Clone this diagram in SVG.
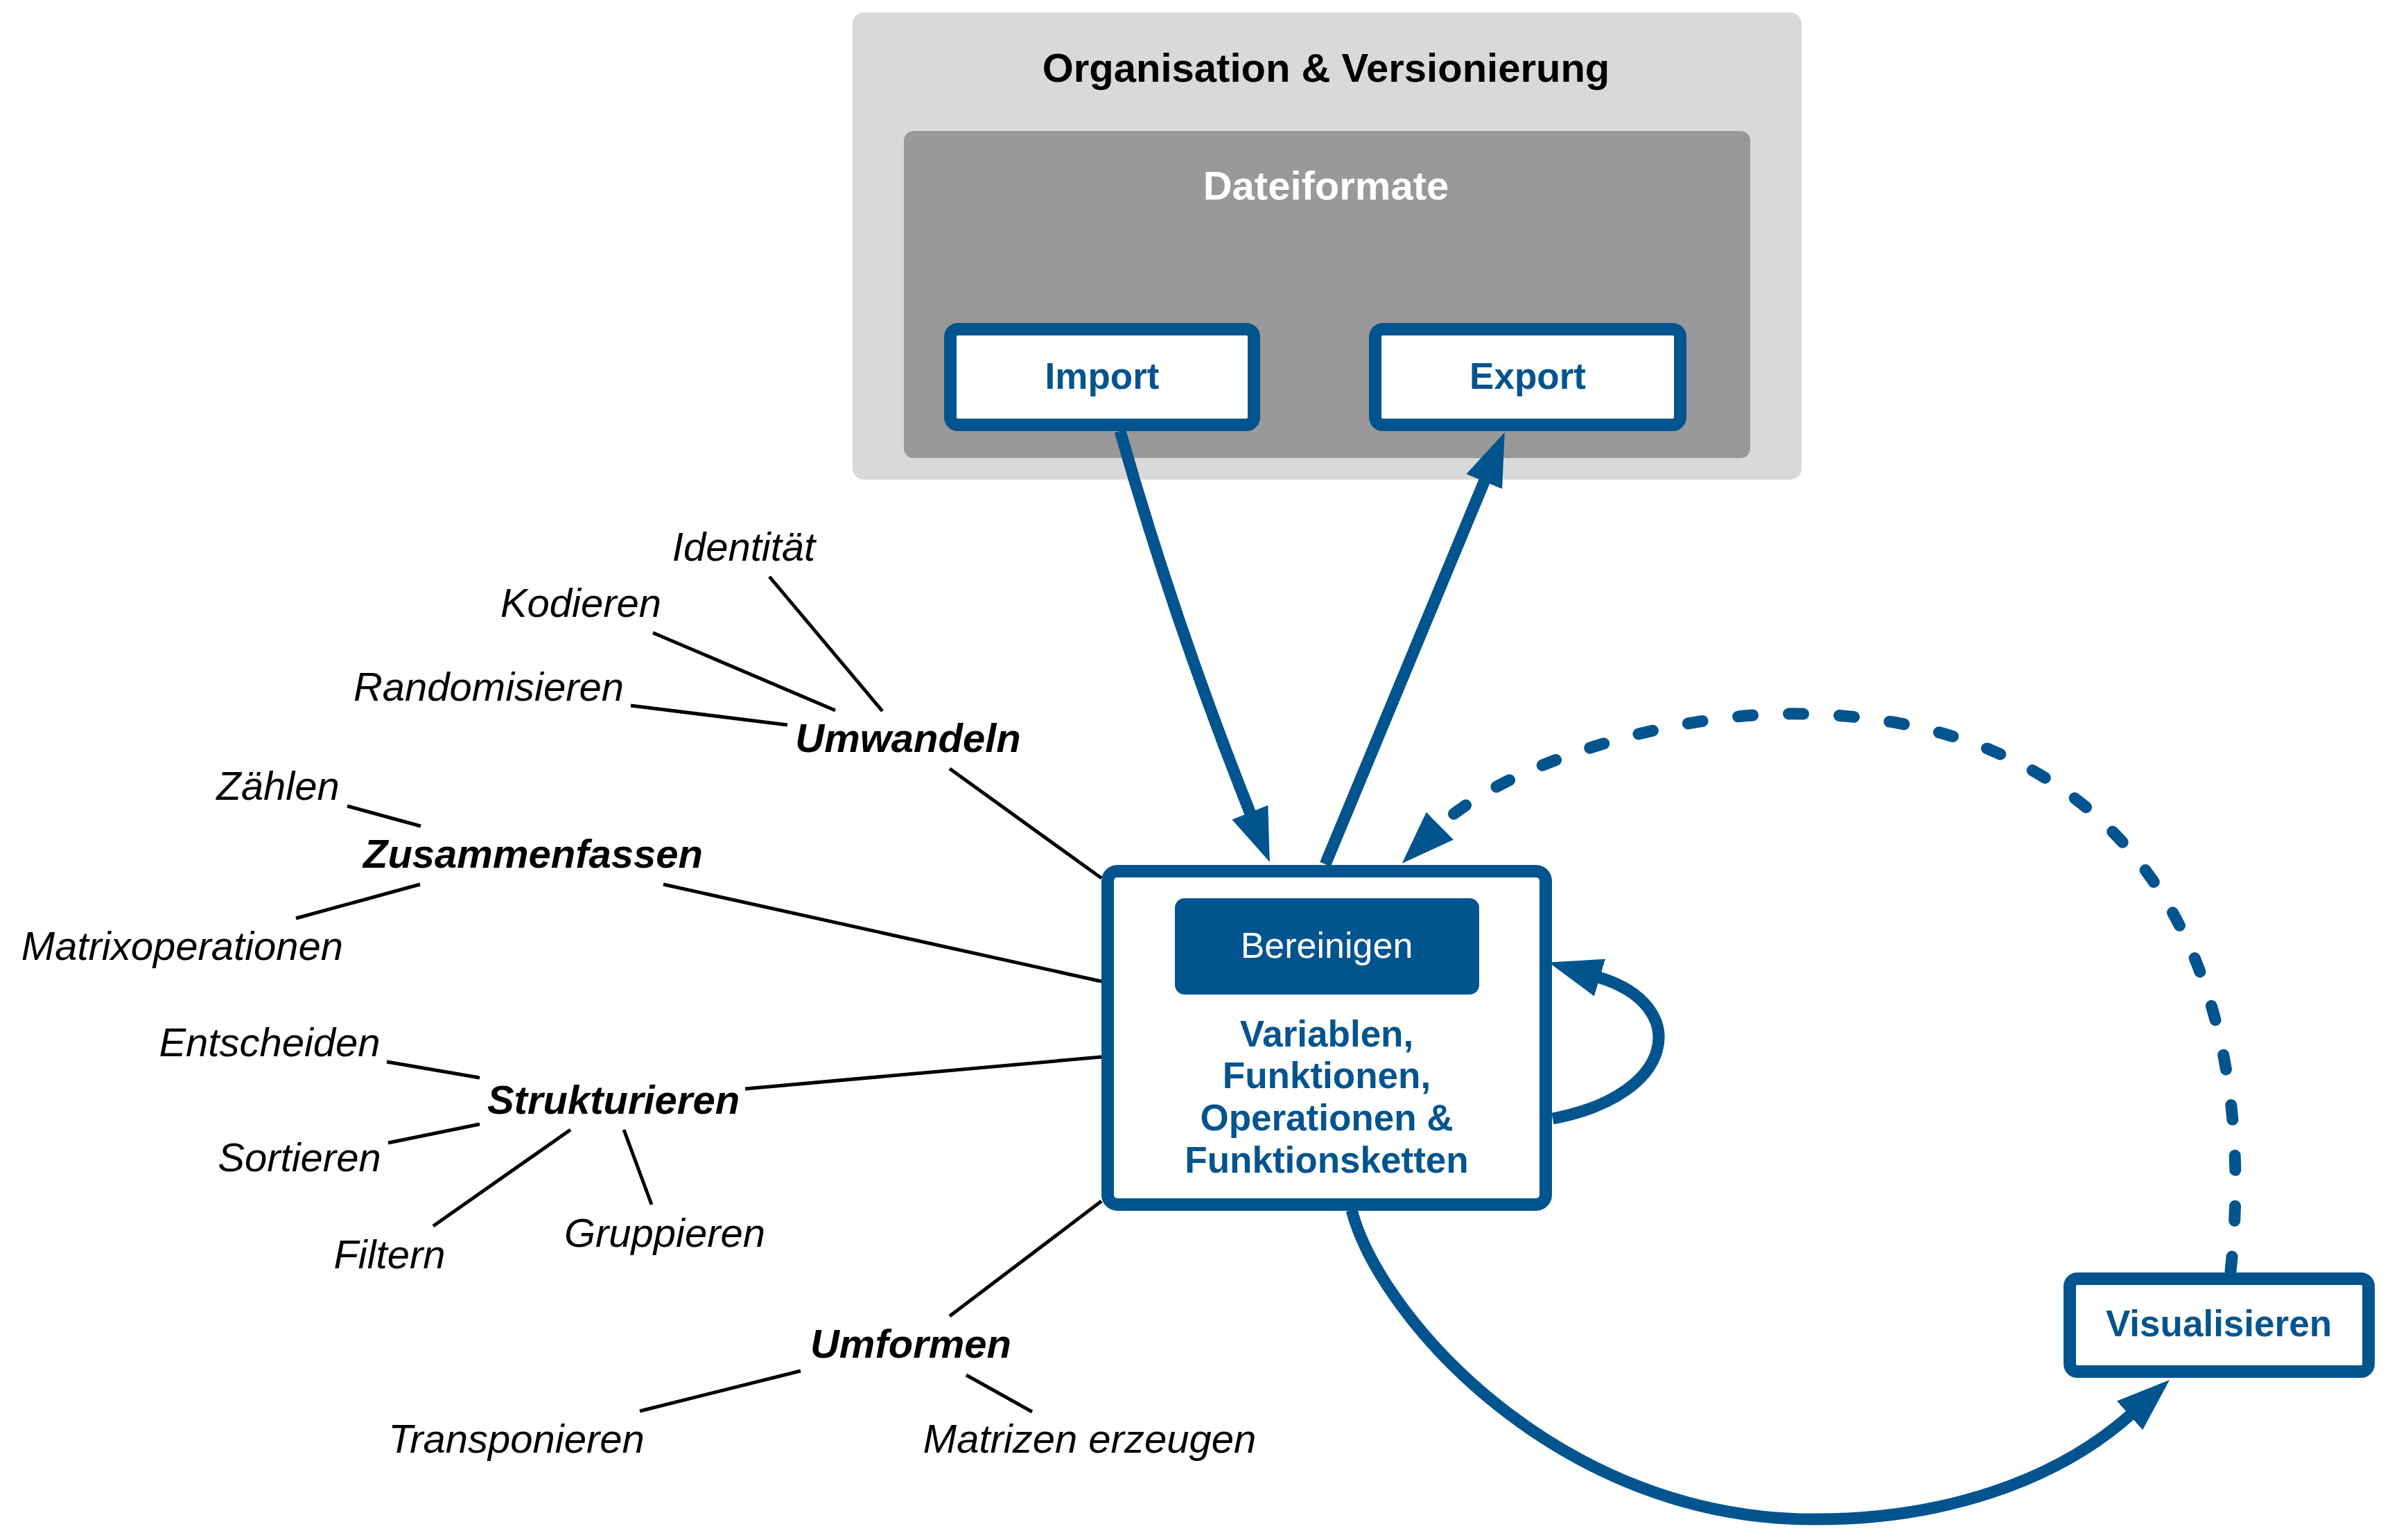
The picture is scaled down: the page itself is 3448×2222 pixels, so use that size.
<svg xmlns="http://www.w3.org/2000/svg" width="3448" height="2222" viewBox="0 0 3448 2222">
<defs>
<style>
text{font-family:"Liberation Sans",Arial,Helvetica,sans-serif;text-anchor:middle}
.hdr{font-size:58px;font-weight:bold}
.node{fill:#fff;stroke:#02548f;stroke-width:18}
.nt{font-size:53px;font-weight:bold;fill:#02548f}
.cat{font-size:58px;font-weight:bold;font-style:italic;fill:#000}
.lbl{font-size:58px;font-style:italic;fill:#000}
.tree line{stroke:#000;stroke-width:5}
.flow{fill:none;stroke:#02548f;stroke-width:17}
.dash{stroke-dasharray:21 52;stroke-linecap:round}
</style>
<marker id="ah" markerUnits="userSpaceOnUse" markerWidth="78" markerHeight="58" viewBox="0 0 78 58" refX="2" refY="29" orient="auto">
<path d="M0 1 L77 29 L0 57 Z" fill="#02548f"/>
</marker>
</defs>
<rect width="3448" height="2222" fill="#fff"/>

<g id="organisation">
<rect x="1230" y="18" width="1369" height="674" rx="16" fill="#d9d9d9"/>
<text class="hdr" x="1913" y="118" fill="#000">Organisation &amp; Versionierung</text>
</g>
<g id="dateiformate">
<rect x="1304" y="189" width="1221" height="472" rx="14" fill="#999999"/>
<text class="hdr" x="1913" y="288" fill="#fff">Dateiformate</text>
</g>
<g id="import">
<rect class="node" x="1371" y="475" width="438" height="138" rx="11"/>
<text class="nt" x="1590" y="561">Import</text>
</g>
<g id="export">
<rect class="node" x="1984" y="475" width="440" height="138" rx="11"/>
<text class="nt" x="2204" y="561">Export</text>
</g>
<g id="main">
<rect class="node" x="1598" y="1257" width="632" height="481" rx="14"/>
<rect x="1695" y="1296" width="439" height="139" rx="14" fill="#02548f"/>
<text x="1914" y="1382" font-size="52" fill="#fff">Bereinigen</text>
<text class="nt" x="1914" y="1510">Variablen,</text>
<text class="nt" x="1914" y="1570">Funktionen,</text>
<text class="nt" x="1914" y="1631">Operationen &amp;</text>
<text class="nt" x="1914" y="1692">Funktionsketten</text>
</g>
<g id="visualisieren">
<rect class="node" x="2986" y="1845" width="431" height="134" rx="11"/>
<text class="nt" x="3201" y="1928">Visualisieren</text>
</g>

<g id="umwandeln">
<text class="cat" x="1310" y="1085">Umwandeln</text>
<text class="lbl" x="1073" y="809">Identität</text>
<text class="lbl" x="838" y="890">Kodieren</text>
<text class="lbl" x="705" y="1011">Randomisieren</text>
</g>
<g id="zusammenfassen">
<text class="cat" x="769" y="1252">Zusammenfassen</text>
<text class="lbl" x="401" y="1154">Zählen</text>
<text class="lbl" x="263" y="1385">Matrixoperationen</text>
</g>
<g id="strukturieren">
<text class="cat" x="885" y="1607">Strukturieren</text>
<text class="lbl" x="389" y="1524">Entscheiden</text>
<text class="lbl" x="432" y="1690">Sortieren</text>
<text class="lbl" x="562" y="1830">Filtern</text>
<text class="lbl" x="959" y="1799">Gruppieren</text>
</g>
<g id="umformen">
<text class="cat" x="1314" y="1959">Umformen</text>
<text class="lbl" x="745" y="2096">Transponieren</text>
<text class="lbl" x="1572" y="2096">Matrizen erzeugen</text>
</g>

<g id="connectors">
<g class="tree">
<line x1="1110" y1="832" x2="1273" y2="1026"/>
<line x1="942" y1="913" x2="1205" y2="1025"/>
<line x1="910" y1="1018" x2="1136" y2="1046"/>
<line x1="1370" y1="1109" x2="1589" y2="1267"/>
<line x1="501" y1="1163" x2="607" y2="1192"/>
<line x1="606" y1="1276" x2="427" y2="1325"/>
<line x1="957" y1="1276" x2="1589" y2="1416"/>
<line x1="558" y1="1532" x2="692" y2="1555"/>
<line x1="1075" y1="1571" x2="1589" y2="1525"/>
<line x1="692" y1="1622" x2="560" y2="1649"/>
<line x1="823" y1="1630" x2="625" y2="1769"/>
<line x1="900" y1="1630" x2="940" y2="1738"/>
<line x1="1370" y1="1899" x2="1589" y2="1733"/>
<line x1="1155" y1="1978" x2="923" y2="2036"/>
<line x1="1394" y1="1984" x2="1489" y2="2037"/>
</g>
<path class="flow" d="M1616 622 Q1696 903 1804 1174" marker-end="url(#ah)"/>
<path class="flow" d="M1912 1247 L2142 693" marker-end="url(#ah)"/>
<path class="flow" d="M2240 1614 C2420 1580 2440 1450 2306 1410" marker-end="url(#ah)"/>
<path class="flow" d="M1950 1746 C1990 1900 2250 2195 2621 2192 C2800 2192 2964 2139 3074 2041" marker-end="url(#ah)"/>
<path class="flow dash" d="M3218 1834 C3260 1450 3120 1040 2600 1030 C2400 1026 2160 1110 2076 1193" marker-end="url(#ah)"/>
</g>
</svg>
